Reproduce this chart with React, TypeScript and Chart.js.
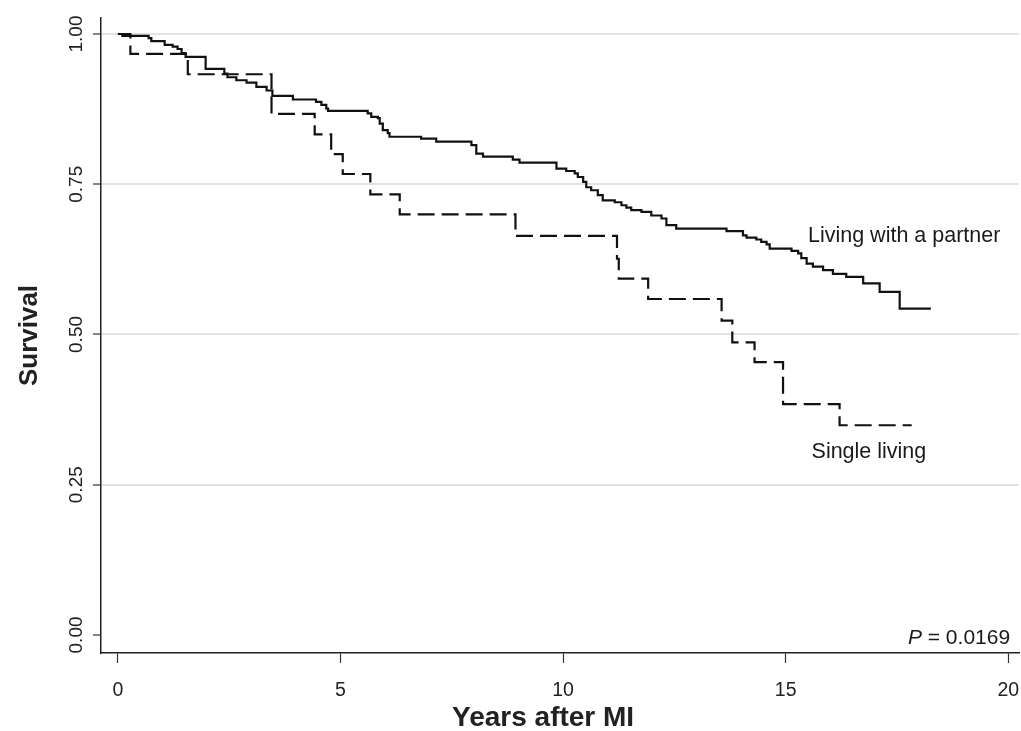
import React, { useEffect, useRef } from "react";
import { Chart, registerables } from "chart.js";

Chart.register(...registerables);

// Kaplan-Meier: living with a partner (solid)
const partnerTimes = [0, 0.10, 0.69, 0.75, 1.05, 1.23, 1.34, 1.43, 1.52, 1.97, 2.39, 2.46, 2.66, 2.89, 3.11, 3.34, 3.47, 3.93, 4.45, 4.57, 4.68, 4.72, 5.61, 5.69, 5.84, 5.88, 5.95, 6.06, 6.10, 6.81, 7.15, 7.94, 8.05, 8.20, 8.87, 9.02, 9.85, 10.07, 10.26, 10.33, 10.45, 10.52, 10.63, 10.78, 10.89, 11.16, 11.31, 11.42, 11.53, 11.76, 11.98, 12.21, 12.32, 12.54, 13.67, 14.04, 14.12, 14.34, 14.45, 14.57, 14.64, 15.13, 15.28, 15.35, 15.47, 15.61, 15.84, 16.06, 16.36, 16.74, 17.11, 17.56, 18.26];
const partnerSurvival = [1.000, 0.997, 0.993, 0.988, 0.982, 0.979, 0.975, 0.968, 0.962, 0.942, 0.934, 0.928, 0.923, 0.919, 0.912, 0.906, 0.897, 0.891, 0.887, 0.882, 0.876, 0.872, 0.868, 0.862, 0.860, 0.851, 0.840, 0.835, 0.829, 0.826, 0.821, 0.815, 0.801, 0.796, 0.791, 0.786, 0.776, 0.772, 0.768, 0.762, 0.754, 0.745, 0.740, 0.732, 0.723, 0.720, 0.715, 0.711, 0.707, 0.704, 0.698, 0.693, 0.682, 0.676, 0.672, 0.665, 0.661, 0.658, 0.654, 0.650, 0.643, 0.639, 0.635, 0.627, 0.618, 0.613, 0.607, 0.601, 0.596, 0.585, 0.571, 0.543, 0.543];

// Kaplan-Meier: single living (dashed)
const singleTimes = [0, 0.28, 1.57, 3.45, 4.42, 4.79, 5.05, 5.67, 6.33, 8.93, 11.21, 11.25, 11.91, 13.56, 13.80, 14.30, 14.94, 16.21, 17.83];
const singleSurvival = [1.000, 0.967, 0.933, 0.867, 0.833, 0.800, 0.767, 0.733, 0.700, 0.664, 0.626, 0.593, 0.559, 0.523, 0.487, 0.454, 0.384, 0.349, 0.349];

const xTickValues = [0, 5, 10, 15, 20];
const yTickValues = [0, 0.25, 0.5, 0.75, 1.0];

const seriesLabels = ["Living with a partner", "Single living"];
const xTitle = "Years after MI";
const yTitle = "Survival";
const pValueText = "0.0169";

const FONT = "'Liberation Sans', Arial, Helvetica, sans-serif";

const annotationPlugin = {
  id: "kmAnnotations",
  afterDraw(chart: any) {
    const { ctx, scales } = chart;
    const xs = scales.x;
    const ys = scales.y;
    ctx.save();
    ctx.fillStyle = "#1a1a1a";
    ctx.font = `21.5px ${FONT}`;
    ctx.textAlign = "left";
    ctx.textBaseline = "middle";
    ctx.fillText(seriesLabels[0], xs.getPixelForValue(15.5), ys.getPixelForValue(0.663));
    ctx.fillText(seriesLabels[1], xs.getPixelForValue(15.58), ys.getPixelForValue(0.304));
    // P value, right aligned
    ctx.textBaseline = "alphabetic";
    const rightX = xs.getPixelForValue(20.04);
    const baseY = ys.getPixelForValue(-0.0145);
    const rest = ` = ${pValueText}`;
    ctx.font = `21px ${FONT}`;
    const wRest = ctx.measureText(rest).width;
    ctx.textAlign = "left";
    ctx.fillText(rest, rightX - wRest, baseY);
    ctx.font = `italic 21px ${FONT}`;
    const wP = ctx.measureText("P").width;
    ctx.fillText("P", rightX - wRest - wP, baseY);
    // x-axis title
    ctx.fillStyle = "#222222";
    ctx.font = `bold 28px ${FONT}`;
    ctx.textAlign = "center";
    ctx.textBaseline = "middle";
    ctx.fillText(xTitle, xs.getPixelForValue(9.55), xs.bottom - 13);
    ctx.restore();
  },
};

export default function App() {
  const canvasRef = useRef<HTMLCanvasElement | null>(null);

  useEffect(() => {
    if (!canvasRef.current) return;
    const partnerData = partnerTimes.map((t, i) => ({ x: t, y: partnerSurvival[i] }));
    const singleData = singleTimes.map((t, i) => ({ x: t, y: singleSurvival[i] }));

    const chart = new Chart(canvasRef.current, {
      type: "line",
      data: {
        datasets: [
          {
            label: seriesLabels[0],
            data: partnerData,
            borderColor: "#111111",
            borderWidth: 2.2,
            stepped: "before",
            pointRadius: 0,
            fill: false,
          },
          {
            label: seriesLabels[1],
            data: singleData,
            borderColor: "#111111",
            borderWidth: 2.2,
            borderDash: [17, 7],
            stepped: "before",
            pointRadius: 0,
            fill: false,
          },
        ],
      },
      options: {
        responsive: false,
        animation: false,
        devicePixelRatio: 1,
        layout: { padding: { top: 18, right: 2, left: 0, bottom: 0 } },
        plugins: {
          legend: { display: false },
          tooltip: { enabled: false },
        },
        scales: {
          x: {
            type: "linear",
            min: -0.38,
            max: 20.24,
            afterBuildTicks: (scale: any) => {
              scale.ticks = xTickValues.map((v) => ({ value: v }));
            },
            afterFit: (scale: any) => {
              scale.height = 78;
              scale.paddingLeft = 0;
              scale.paddingRight = 0;
            },
            border: { display: true, color: "#222222", width: 1.5 },
            grid: {
              drawOnChartArea: false,
              drawTicks: true,
              tickLength: 10,
              tickColor: "#333333",
              tickWidth: 1.2,
            },
            ticks: {
              color: "#222222",
              font: { family: FONT, size: 19.5 },
              padding: 16,
              maxRotation: 0,
              minRotation: 0,
              callback: (v: any) => String(v),
            },
            title: { display: false },
          },
          y: {
            type: "linear",
            min: -0.03,
            max: 1.0266,
            afterBuildTicks: (scale: any) => {
              scale.ticks = yTickValues.map((v) => ({ value: v }));
            },
            afterFit: (scale: any) => {
              scale.width = 101;
              scale.paddingTop = 0;
              scale.paddingBottom = 0;
            },
            border: { display: true, color: "#222222", width: 1.5 },
            grid: {
              drawOnChartArea: true,
              drawTicks: true,
              tickLength: 8,
              color: (ctx: any) => (ctx.tick && ctx.tick.value === 0 ? "rgba(0,0,0,0)" : "#e3e3e3"),
              lineWidth: 2,
              tickColor: "#333333",
              tickWidth: 1.2,
            },
            ticks: {
              color: "#222222",
              font: { family: FONT, size: 19 },
              padding: -2,
              minRotation: 90,
              maxRotation: 90,
              crossAlign: "center",
              callback: (v: any) => Number(v).toFixed(2),
            },
            title: {
              display: true,
              text: yTitle,
              color: "#222222",
              font: { family: FONT, size: 26, weight: "bold", lineHeight: 1.0 },
              padding: { top: 17, bottom: 0 },
            },
          },
        },
      },
      plugins: [annotationPlugin],
    });
    return () => chart.destroy();
  }, []);

  return (
    <div style={{ position: "absolute", left: 0, top: 0, width: 1021, height: 731, background: "#ffffff" }}>
      <canvas ref={canvasRef} width={1021} height={731} />
    </div>
  );
}
